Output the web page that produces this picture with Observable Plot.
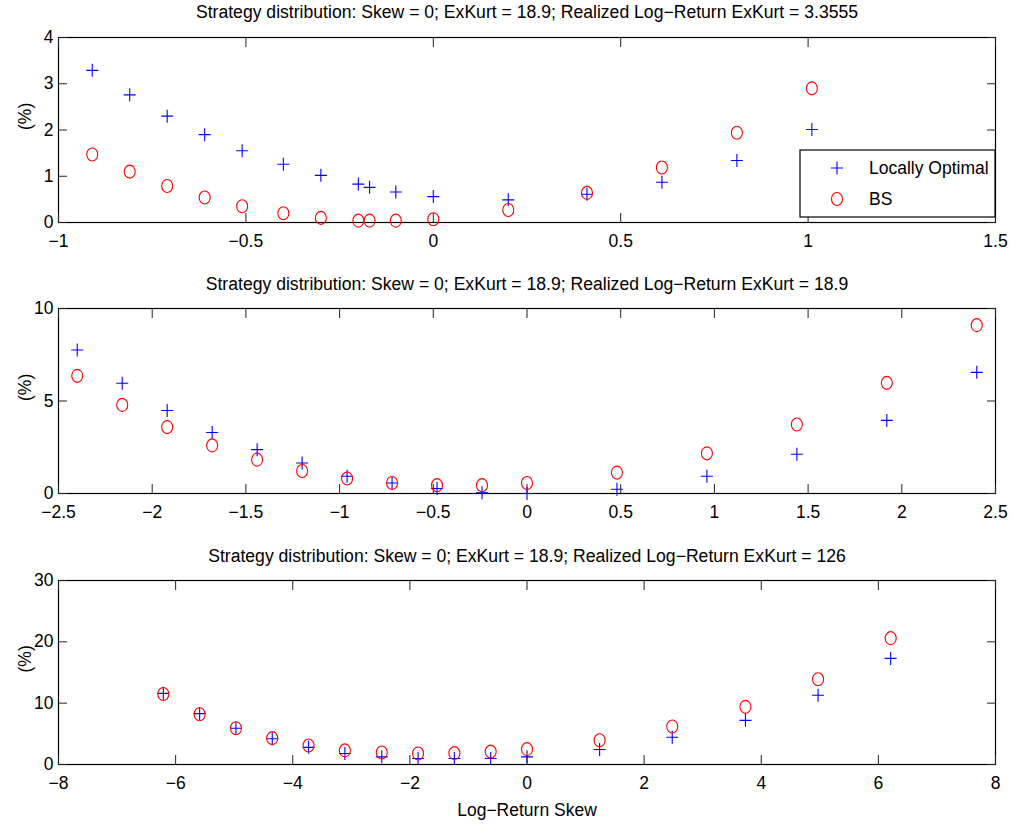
<!DOCTYPE html>
<html><head><meta charset="utf-8">
<script src="https://cdn.jsdelivr.net/npm/d3@7"></script>
<script src="https://cdn.jsdelivr.net/npm/@observablehq/plot@0.6"></script>
<style>
body{margin:0;background:#fff}
#chart{position:relative;width:1013px;height:827px;background:#fff}
#chart svg{display:block}
</style>
</head><body><div id="chart"></div>
<script>
// ---- data ----
const titles = [
  "Strategy distribution: Skew = 0; ExKurt = 18.9; Realized Log\u2212Return ExKurt = 3.3555",
  "Strategy distribution: Skew = 0; ExKurt = 18.9; Realized Log\u2212Return ExKurt = 18.9",
  "Strategy distribution: Skew = 0; ExKurt = 18.9; Realized Log\u2212Return ExKurt = 126"
];
const seriesNames = ["Locally Optimal", "BS"];
const xAxisLabel = "Log\u2212Return Skew";
const yAxisLabel = "(%)";

const skew1 = [-0.91,-0.81,-0.71,-0.61,-0.51,-0.40,-0.30,-0.20,-0.17,-0.10,0,0.20,0.41,0.61,0.81,1.01];
const lo1   = [3.29,2.76,2.30,1.90,1.55,1.26,1.02,0.83,0.76,0.66,0.56,0.49,0.61,0.87,1.34,2.01];
const bs1   = [1.47,1.10,0.79,0.54,0.35,0.20,0.10,0.04,0.04,0.04,0.07,0.27,0.64,1.19,1.94,2.90];
const xTicks1 = [-1,-0.5,0,0.5,1,1.5];
const yTicks1 = [0,1,2,3,4];

const skew2 = [-2.40,-2.16,-1.92,-1.68,-1.44,-1.20,-0.96,-0.72,-0.48,-0.24,0,0.48,0.96,1.44,1.92,2.40];
const lo2   = [7.76,5.96,4.49,3.30,2.37,1.65,0.93,0.57,0.27,0.04,0.00,0.23,0.93,2.12,3.95,6.55];
const bs2   = [6.36,4.79,3.59,2.60,1.83,1.22,0.81,0.57,0.45,0.45,0.57,1.13,2.17,3.73,5.98,9.10];
const xTicks2 = [-2.5,-2,-1.5,-1,-0.5,0,0.5,1,1.5,2,2.5];
const yTicks2 = [0,5,10];

const skew3 = [-6.21,-5.59,-4.97,-4.35,-3.73,-3.11,-2.48,-1.86,-1.24,-0.62,0,1.24,2.48,3.73,4.97,6.21];
const lo3   = [11.6,8.3,5.9,4.2,2.8,1.8,1.25,0.97,0.97,0.97,1.25,2.44,4.44,7.2,11.3,17.3];
const bs3   = [11.5,8.2,5.9,4.3,3.1,2.3,1.95,1.8,1.85,2.1,2.5,3.95,6.2,9.4,13.9,20.6];
const xTicks3 = [-8,-6,-4,-2,0,2,4,6,8];
const yTicks3 = [0,10,20,30];

// ---- styling ----
const FONT = "'Liberation Sans', Arial, Helvetica, sans-serif";
const BLUE = "#0000ff", RED = "#ff0000";
const fmt = d => String(d).replace("-", "\u2212");

const plusSym = {draw(ctx){ ctx.moveTo(-6,0); ctx.lineTo(6,0); ctx.moveTo(0,-6.5); ctx.lineTo(0,6.5); }};
const ellSym = {draw(ctx){
  const rx = 5.5, ry = 6.5, k = 0.5523;
  ctx.moveTo(rx,0);
  ctx.bezierCurveTo(rx, ry*k, rx*k, ry, 0, ry);
  ctx.bezierCurveTo(-rx*k, ry, -rx, ry*k, -rx, 0);
  ctx.bezierCurveTo(-rx, -ry*k, -rx*k, -ry, 0, -ry);
  ctx.bezierCurveTo(rx*k, -ry, rx, -ry*k, rx, 0);
  ctx.closePath();
}};

function panel({skew, lo, bs, xTicks, yTicks, title, height, marginTop, marginBottom, titleDy, xlabel}) {
  const rows = skew.map((s, i) => ({skew: s, lo: lo[i], bs: bs[i]}));
  const xd = [xTicks[0], xTicks[xTicks.length-1]];
  const yd = [yTicks[0], yTicks[yTicks.length-1]];
  const marks = [
    Plot.frame({stroke: "black", strokeWidth: 1.2}),
    Plot.axisX({anchor: "bottom", ticks: xTicks, tickSize: 0, tickPadding: 12, tickFormat: fmt, fontSize: 17.5, label: null}),
    Plot.axisX({anchor: "bottom", ticks: xTicks, tickSize: -9, fill: "none", stroke: "#222", label: null}),
    Plot.axisX({anchor: "top", ticks: xTicks, tickSize: -9, fill: "none", stroke: "#222", label: null}),
    Plot.axisY({anchor: "left", ticks: yTicks, tickSize: 0, tickPadding: 5, tickFormat: fmt, fontSize: 17.5, label: null}),
    Plot.axisY({anchor: "left", ticks: yTicks, tickSize: -9, fill: "none", stroke: "#222", label: null}),
    Plot.axisY({anchor: "right", ticks: yTicks, tickSize: -9, fill: "none", stroke: "#222", label: null}),
    Plot.dot(rows, {x: "skew", y: "lo", symbol: plusSym, r: 3, stroke: BLUE, fill: "none", strokeWidth: 1.1}),
    Plot.dot(rows, {x: "skew", y: "bs", symbol: ellSym, r: 3, stroke: RED, fill: "none", strokeWidth: 1.1}),
    Plot.text([title], {frameAnchor: "top", dy: titleDy, lineAnchor: "middle", fontSize: 17.6, fill: "black"}),
    Plot.text([yAxisLabel], {frameAnchor: "left", rotate: -90, dx: -33, lineAnchor: "middle", fontSize: 17.5, fill: "black"})
  ];
  if (xlabel) marks.push(Plot.text([xlabel], {frameAnchor: "bottom", dy: 46, lineAnchor: "middle", fontSize: 17.5, fill: "black"}));
  return Plot.plot({
    width: 1013, height,
    marginLeft: 58, marginRight: 18, marginTop, marginBottom,
    style: {fontFamily: FONT, fontSize: "17px", background: "white", color: "black"},
    x: {type: "linear", domain: xd},
    y: {type: "linear", domain: yd},
    marks
  });
}

const root = document.getElementById("chart");
const p1 = panel({skew: skew1, lo: lo1, bs: bs1, xTicks: xTicks1, yTicks: yTicks1, title: titles[0], height: 272, marginTop: 37, marginBottom: 50, titleDy: -25});
const p2 = panel({skew: skew2, lo: lo2, bs: bs2, xTicks: xTicks2, yTicks: yTicks2, title: titles[1], height: 272, marginTop: 36, marginBottom: 51, titleDy: -24});
const p3 = panel({skew: skew3, lo: lo3, bs: bs3, xTicks: xTicks3, yTicks: yTicks3, title: titles[2], height: 283, marginTop: 36, marginBottom: 63, titleDy: -24, xlabel: xAxisLabel});
root.append(p1, p2, p3);

// legend inside panel 1 (lower right)
const lg = d3.select(p1).append("g").attr("font-family", FONT).attr("font-size", 17.5).attr("text-anchor", "start");
lg.append("rect").attr("x", 800).attr("y", 150).attr("width", 195).attr("height", 67)
  .attr("fill", "white").attr("stroke", "black").attr("stroke-width", 1.2);
const pp = d3.path(); plusSym.draw(pp);
const ep = d3.path(); ellSym.draw(ep);
lg.append("path").attr("d", pp.toString()).attr("transform", "translate(837,168)").attr("stroke", BLUE).attr("fill", "none").attr("stroke-width", 1.1);
lg.append("path").attr("d", ep.toString()).attr("transform", "translate(837,199)").attr("stroke", RED).attr("fill", "none").attr("stroke-width", 1.1);
lg.append("text").attr("x", 869).attr("y", 168).attr("dy", "0.35em").attr("fill", "black").text(seriesNames[0]);
lg.append("text").attr("x", 869).attr("y", 199).attr("dy", "0.35em").attr("fill", "black").text(seriesNames[1]);
</script>
</body></html>
